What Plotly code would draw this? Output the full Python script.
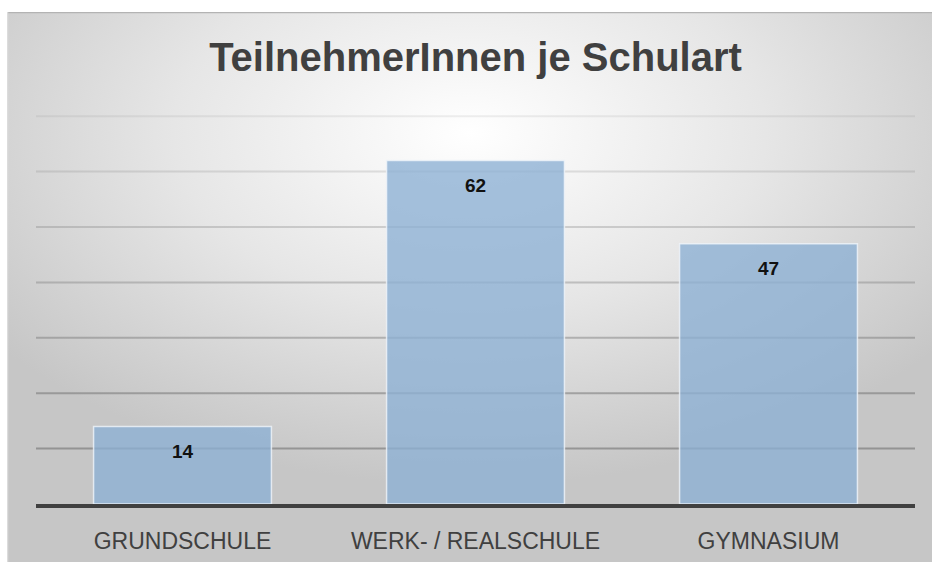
import base64
import plotly.graph_objects as go

categories = ["GRUNDSCHULE", "WERK- / REALSCHULE", "GYMNASIUM"]
values = [14, 62, 47]
y_ticks = [10, 20, 30, 40, 50, 60, 70]
title_text = "TeilnehmerInnen je Schulart"

W, H = 932, 562
ML, MR, MT, MB = 36, 17, 114, 58
PW, PH = W - ML - MR, H - MT - MB
YMAX = 70.4

svg = f'''<svg xmlns="http://www.w3.org/2000/svg" width="925" height="550" viewBox="0 0 925 550" preserveAspectRatio="none">
<defs><radialGradient id="g" cx="0.5" cy="0.22" r="0.64" gradientUnits="objectBoundingBox">
<stop offset="0" stop-color="#ffffff"/><stop offset="0.5" stop-color="#e6e6e6"/><stop offset="1" stop-color="#c6c6c6"/>
</radialGradient></defs>
<rect x="0" y="0" width="925" height="550" fill="url(#g)"/>
<line x1="0" y1="0.5" x2="925" y2="0.5" stroke="#b3b3b3" stroke-width="1.5"/>
<line x1="0.5" y1="0" x2="0.5" y2="550" stroke="#dcdcdc" stroke-width="1.5"/>
</svg>'''
src = "data:image/svg+xml;base64," + base64.b64encode(svg.encode()).decode()

x0 = (7 - ML) / PW
sx = (W - 7) / PW
ytop = (H - MB - 12) / PH
sy = (H - 12) / PH

fig = go.Figure()
fig.add_trace(go.Bar(
    x=categories, y=values,
    marker=dict(color="rgba(140,176,212,0.78)",
                line=dict(color="rgba(240,245,250,0.8)", width=1.5)),
    width=0.607, hoverinfo="skip",
))

# gridlines: darker toward the bottom, like the reference
n = len(y_ticks)
shapes = []
for i, t in enumerate(y_ticks):
    a = 0.55 - 0.44 * i / (n - 1)
    shapes.append(dict(type="line", xref="paper", yref="y", x0=0, x1=1, y0=t, y1=t,
                       line=dict(color=f"rgba(105,105,105,{a:.2f})", width=2), layer="below"))

for c, v in zip(categories, values):
    fig.add_annotation(x=c, y=v, text=f"<b>{v}</b>", showarrow=False,
                       yshift=-25, font=dict(family="Liberation Sans", size=19, color="#111111"))

fig.update_layout(
    width=W, height=H,
    margin=dict(l=ML, r=MR, t=MT, b=MB, autoexpand=False),
    paper_bgcolor="white",
    plot_bgcolor="rgba(0,0,0,0)",
    showlegend=False,
    title=dict(text=f"<b>{title_text}</b>", x=(ML + PW / 2) / W, xanchor="center",
               y=1 - 57 / H, yanchor="middle", yref="container", xref="container",
               font=dict(family="Liberation Sans", size=40, color="#404040"),
               automargin=False),
    images=[dict(source=src, xref="paper", yref="paper", x=x0, y=ytop,
                 sizex=sx, sizey=sy, xanchor="left", yanchor="top",
                 sizing="stretch", layer="below")],
    shapes=shapes,
    xaxis=dict(showgrid=False, showline=True, linecolor="#404040", linewidth=4,
               ticks="", tickfont=dict(family="Liberation Sans", size=23, color="#404040"),
               ticklabelstandoff=13, automargin=False),
    yaxis=dict(range=[0, YMAX], showticklabels=False, showgrid=False,
               zeroline=False, showline=False, automargin=False),
)

fig.write_html("out.html", config={"displayModeBar": False},
               post_script="document.body.style.margin='0';document.body.style.overflow='hidden';")
